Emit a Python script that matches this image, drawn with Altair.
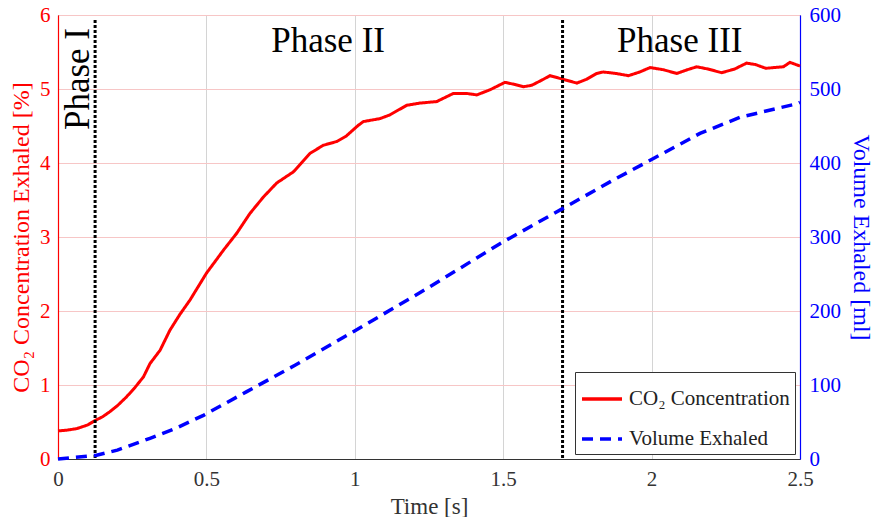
import altair as alt
import pandas as pd

# ---- data ----
co2_time = [0, 0.03, 0.063, 0.1, 0.125, 0.15, 0.175, 0.2, 0.231, 0.26, 0.288, 0.31, 0.344,
            0.377, 0.41, 0.445, 0.5, 0.557, 0.602, 0.647, 0.692, 0.737, 0.793, 0.849, 0.894,
            0.939, 0.97, 1.012, 1.029, 1.085, 1.118, 1.175, 1.22, 1.276, 1.332, 1.377, 1.411,
            1.456, 1.506, 1.54, 1.568, 1.596, 1.63, 1.658, 1.703, 1.748, 1.78, 1.815, 1.837,
            1.88, 1.922, 1.96, 1.995, 2.04, 2.085, 2.12, 2.152, 2.19, 2.236, 2.28, 2.32, 2.35,
            2.385, 2.444, 2.466, 2.5]
co2_value = [0.38, 0.39, 0.41, 0.46, 0.52, 0.57, 0.64, 0.72, 0.84, 0.97, 1.11, 1.29, 1.47,
             1.74, 1.95, 2.15, 2.51, 2.82, 3.05, 3.32, 3.54, 3.73, 3.88, 4.13, 4.24,
             4.29, 4.36, 4.51, 4.56, 4.60, 4.65, 4.78, 4.81, 4.83, 4.94, 4.94, 4.92,
             4.99, 5.09, 5.06, 5.03, 5.05, 5.12, 5.18, 5.13, 5.08, 5.13, 5.21, 5.23,
             5.21, 5.18, 5.23, 5.29, 5.26, 5.21, 5.26, 5.30, 5.27, 5.22, 5.27, 5.35, 5.33,
             5.28, 5.30, 5.36, 5.31]

vol_time = [0, 0.13, 0.2, 0.31, 0.4, 0.49, 0.636, 0.8, 0.995, 1.25, 1.489, 1.703, 1.871,
            2.006, 2.163, 2.3, 2.489, 2.5]
vol_value = [0, 5, 12, 28, 42, 59, 91, 127, 172, 232, 291, 339, 377, 406, 440, 462, 480, 482]

series_names = ["CO\u2082 Concentration", "Volume Exhaled"]
phase_bounds = [0.125, 1.7]
phase_labels = ["Phase II", "Phase III"]
phase_label_time = [0.91, 2.095]
phase1_label = ["Phase I"]
phase1_time = [0.068]

x_ticks = [0, 0.5, 1, 1.5, 2, 2.5]
left_ticks = [0, 1, 2, 3, 4, 5, 6]
right_ticks = [0, 100, 200, 300, 400, 500, 600]

co2_df = pd.DataFrame({"t": co2_time, "co2": co2_value, "series": series_names[0]})
vol_df = pd.DataFrame({"t": vol_time, "vol": vol_value, "series": series_names[1]})
bounds_df = pd.DataFrame({"t": phase_bounds})
labels_df = pd.DataFrame({"t": phase_label_time, "label": phase_labels})
p1_df = pd.DataFrame({"t": phase1_time, "label": phase1_label})

FONT = "Liberation Serif"
RED = "#ff0000"
BLUE = "#0000ff"

x_enc = alt.X("t:Q", scale=alt.Scale(domain=[0, 2.5], nice=False, zero=False),
              axis=alt.Axis(values=x_ticks, format="~g", title="Time [s]", grid=True,
                            gridColor="#d4d4d4", gridWidth=1, domainColor="#333333",
                            labelColor="#333333", titleColor="#333333", ticks=False,
                            labelPadding=9, titlePadding=6, labelFlush=False,
                            labelFont=FONT, titleFont=FONT, labelFontSize=21,
                            titleFontSize=23, titleFontWeight="normal"))

color_enc = alt.Color("series:N", scale=alt.Scale(domain=series_names, range=[RED, BLUE]),
                      legend=alt.Legend(title=None, orient="bottom-right", offset=5,
                                        strokeColor="#333333", fillColor="white", padding=5,
                                        symbolType="stroke", symbolSize=1600,
                                        symbolStrokeWidth=3.5, labelFont=FONT,
                                        labelFontSize=21, labelColor="#222222",
                                        labelLimit=400, rowPadding=8, labelOffset=5))
dash_enc = alt.StrokeDash("series:N",
                          scale=alt.Scale(domain=series_names, range=[[1, 0], [11, 7]]),
                          legend=alt.Legend(title=None, orient="bottom-right"))

co2_line = alt.Chart(co2_df).mark_line(strokeWidth=3, interpolate="linear").encode(
    x=x_enc,
    y=alt.Y("co2:Q", scale=alt.Scale(domain=[0, 6], nice=False),
            axis=alt.Axis(values=left_ticks, orient="left", title="CO\u2082 Concentration Exhaled [%]",
                          domainColor=RED, labelColor=RED, titleColor=RED, grid=True,
                          gridColor="#f7c6c6", gridWidth=1, ticks=False, labelPadding=8,
                          titlePadding=6, labelFont=FONT, titleFont=FONT, labelFontSize=21,
                          titleFontSize=24, titleFontWeight="normal")),
    color=color_enc,
    strokeDash=dash_enc,
)

rules = alt.Chart(bounds_df).mark_rule(color="black", strokeWidth=3, strokeDash=[3, 2]).encode(
    x="t:Q", y=alt.value(5), y2=alt.value(444))

phase_text = alt.Chart(labels_df).mark_text(font=FONT, fontSize=35, color="black",
                                            align="center", baseline="middle").encode(
    x="t:Q", y=alt.value(26), text="label:N")

phase1_text = alt.Chart(p1_df).mark_text(font=FONT, fontSize=35, color="black", angle=270,
                                         align="center", baseline="middle").encode(
    x="t:Q", y=alt.value(64), text="label:N")

left = alt.layer(co2_line, rules, phase_text, phase1_text)

vol_line = alt.Chart(vol_df).mark_line(strokeWidth=3.5).encode(
    x=x_enc,
    y=alt.Y("vol:Q", scale=alt.Scale(domain=[0, 600], nice=False),
            axis=alt.Axis(values=right_ticks, orient="right", title="Volume Exhaled [ml]",
                          domainColor=BLUE, labelColor=BLUE, titleColor=BLUE, grid=False,
                          ticks=False, labelPadding=9, titlePadding=8, labelFont=FONT,
                          titleFont=FONT, labelFontSize=21, titleFontSize=24,
                          titleFontWeight="normal")),
    color=color_enc,
    strokeDash=dash_enc,
)

chart = alt.layer(left, vol_line).resolve_scale(y="independent").properties(
    width=742, height=444,
    background="white",
    autosize=alt.AutoSizeParams(type="none"),
    padding={"left": 58, "top": 15, "right": 75, "bottom": 58},
).configure_view(stroke="black", strokeWidth=1).configure_axis(
    labelFont=FONT, titleFont=FONT, domainWidth=1.2,
)

chart.save("out.html", embed_options={"renderer": "svg", "actions": False})
